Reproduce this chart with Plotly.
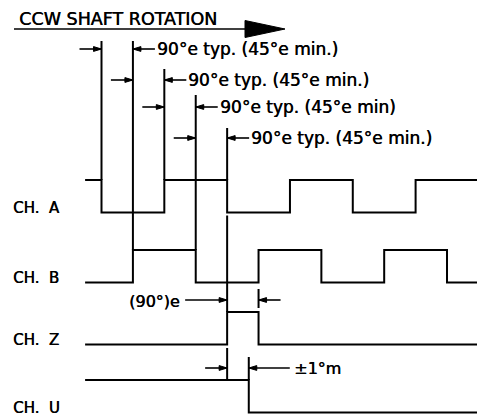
import plotly.graph_objects as go

# ---------------- data (electrical degrees) ----------------
channels = ["CH.  A", "CH.  B", "CH.  Z", "CH.  U"]
start_levels = [1, 0, 0, 1]          # 1 = high at left edge
edges_a = [0, 180, 360, 540, 720, 900]
edges_b = [90, 270, 450, 630, 810, 990]
edges_z = [360, 450]
edges_u = [422]
trace_start, trace_end = -47, 1076

title_text = "CCW SHAFT ROTATION"
phase_labels = ["90°e typ. (45°e min.)", "90°e typ. (45°e min.)",
                "90°e typ. (45°e min)", "90°e typ. (45°e min.)"]
phase_pairs = [(0, 90), (90, 180), (180, 270), (270, 360)]
index_label = "(90°)e"
index_pair = (360, 450)
u_label = "±1°m"
u_pair = (360, 422)

# ---------------- layout constants (pixels) ----------------
W, H = 477, 419
PX_PER_DEG = 0.349
ORIGIN_PX = 101.5
XMIN = -ORIGIN_PX / PX_PER_DEG
XMAX = (W - ORIGIN_PX) / PX_PER_DEG
ROW_HIGH = [180, 250, 312, 380]
AMP = 32.5
LW = 2
FONT = "DejaVu Sans"


def dpx(n):
    return n / PX_PER_DEG


def xpx(p):
    return (p - ORIGIN_PX) / PX_PER_DEG


def step(edges, start, hi, lo):
    lvl = start
    xs = [trace_start]
    ys = [hi if lvl else lo]
    for e in edges:
        xs += [e, e]
        ys += [hi if lvl else lo, lo if lvl else hi]
        lvl = 1 - lvl
    xs.append(trace_end)
    ys.append(hi if lvl else lo)
    return xs, ys


fig = go.Figure()
all_edges = [edges_a, edges_b, edges_z, edges_u]
for i, (name, ed) in enumerate(zip(channels, all_edges)):
    hi = ROW_HIGH[i]
    lo = hi + AMP
    xs, ys = step(ed, start_levels[i], hi, lo)
    fig.add_trace(go.Scatter(x=xs, y=ys, mode="lines",
                             line=dict(color="black", width=LW, shape="linear"),
                             hoverinfo="skip", showlegend=False))

# extension lines
ext_tops = [41, 41, 69, 95, 128]
phase_edges = [p[0] for p in phase_pairs] + [phase_pairs[-1][1]]
ext_owner = [0, 1, 0, 1, 0]
ex, ey = [], []
for e, top, own in zip(phase_edges, ext_tops, ext_owner):
    ex += [e, e, None]
    ey += [top, ROW_HIGH[own], None]
ex += [index_pair[0], index_pair[0], None]
ey += [ROW_HIGH[0] + AMP + 3, ROW_HIGH[2], None]
ex += [u_pair[0], u_pair[0], None]
ey += [ROW_HIGH[2] + AMP + 3.5, ROW_HIGH[3], None]
ex += [u_pair[1], u_pair[1], None]
ey += [357, ROW_HIGH[3], None]
ex += [index_pair[1], index_pair[1], None]
ey += [289, 308, None]
fig.add_trace(go.Scatter(x=ex, y=ey, mode="lines",
                         line=dict(color="black", width=LW),
                         hoverinfo="skip", showlegend=False))

# dimension arrows
ROW_Y = [49, 80, 107, 138]
TAIL = 22
HL, HW = 8, 2.4
sx, sy, hx, hy = [], [], [], []


def arrow(tip, y, direction, tail_px):
    sx.extend([tip, tip - direction * dpx(tail_px), None])
    sy.extend([y, y, None])
    b = tip - direction * dpx(HL)
    hx.extend([tip, b, b, tip, None])
    hy.extend([y, y - HW, y + HW, y, None])


annos = []
for (l, r), y, lab in zip(phase_pairs, ROW_Y, phase_labels):
    arrow(l, y, 1, TAIL)
    arrow(r, y, -1, TAIL)
    annos.append(dict(x=r + dpx(TAIL), y=y, text=lab, xanchor="left",
                      yanchor="middle", font=dict(size=17)))

arrow(index_pair[0], 300, 1, 42)
arrow(index_pair[1], 300, -1, 22)
annos.append(dict(x=index_pair[0] - dpx(45), y=301, text=index_label,
                  xanchor="right", yanchor="middle", font=dict(size=16)))
arrow(u_pair[0], 368, 1, 22)
arrow(u_pair[1], 368, -1, 41)
annos.append(dict(x=u_pair[1] + dpx(43), y=368, text=u_label,
                  xanchor="left", yanchor="middle", font=dict(size=16)))

fig.add_trace(go.Scatter(x=sx, y=sy, mode="lines",
                         line=dict(color="black", width=1.6),
                         hoverinfo="skip", showlegend=False))
fig.add_trace(go.Scatter(x=hx, y=hy, mode="lines", fill="toself",
                         fillcolor="black", line=dict(color="black", width=1),
                         hoverinfo="skip", showlegend=False))

# title arrow
fig.add_trace(go.Scatter(x=[xpx(14), xpx(250)], y=[29, 29], mode="lines",
                         line=dict(color="black", width=1.6),
                         hoverinfo="skip", showlegend=False))
fig.add_trace(go.Scatter(x=[xpx(285), xpx(245), xpx(245), xpx(285)],
                         y=[29, 20.5, 37.5, 29], mode="lines", fill="toself",
                         fillcolor="black", line=dict(color="black", width=1),
                         hoverinfo="skip", showlegend=False))
annos.append(dict(x=xpx(17), y=19, text=title_text, xanchor="left",
                  yanchor="middle", font=dict(size=17.5)))

for i, name in enumerate(channels):
    annos.append(dict(x=xpx(11), y=ROW_HIGH[i] + AMP - 4.5, text=name,
                      xanchor="left", yanchor="middle", font=dict(size=15)))

for a in annos:
    a.update(xref="x", yref="y", showarrow=False)
    a["font"].update(family=FONT, color="black", shadow="0.5px 0px 0px black")

fig.update_layout(
    width=W, height=H, margin=dict(l=0, r=0, t=0, b=0),
    paper_bgcolor="white", plot_bgcolor="white",
    xaxis=dict(range=[XMIN, XMAX], visible=False, fixedrange=True),
    yaxis=dict(range=[H, 0], visible=False, fixedrange=True),
    annotations=annos, showlegend=False,
)
fig.write_html("out.html", config={"displayModeBar": False},
               post_script="document.body.style.margin='0';document.body.style.overflow='hidden';")
